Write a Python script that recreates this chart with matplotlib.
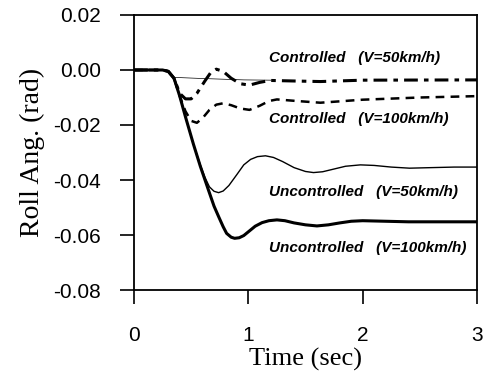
import numpy as np
import matplotlib.pyplot as plt

# time (sec) / roll angle (rad)
t_unc100 = [0, 0.25, 0.30, 0.35, 0.40, 0.45, 0.52, 0.58, 0.65, 0.70, 0.74, 0.78, 0.81, 0.85, 0.88, 0.92,
            0.96, 1.01, 1.06, 1.12, 1.18, 1.25, 1.32, 1.40, 1.50, 1.60, 1.70, 1.80, 1.90, 2.00, 2.20,
            2.40, 2.70, 3.00]
y_unc100 = [0, 0, -0.0005, -0.003, -0.0095, -0.017, -0.027, -0.035, -0.0435, -0.0495, -0.0533, -0.0570,
            -0.0594, -0.0608, -0.0612, -0.0610, -0.0602, -0.0585, -0.0568, -0.0555, -0.0548, -0.0545,
            -0.0548, -0.0556, -0.0563, -0.0567, -0.0563, -0.0556, -0.0550, -0.0548, -0.0550, -0.0552,
            -0.0552, -0.0552]

t_unc50 = [0, 0.25, 0.30, 0.35, 0.40, 0.45, 0.52, 0.58, 0.62, 0.66, 0.70, 0.74, 0.78, 0.83, 0.90, 0.96,
           1.02, 1.08, 1.15, 1.22, 1.30, 1.40, 1.50, 1.57, 1.65, 1.75, 1.85, 1.98, 2.10, 2.25, 2.41,
           2.60, 2.80, 3.00]
y_unc50 = [0, 0, -0.0005, -0.003, -0.0095, -0.017, -0.027, -0.0345, -0.0390, -0.0425, -0.0441, -0.0446,
           -0.0440, -0.0420, -0.0380, -0.0345, -0.0325, -0.0315, -0.0312, -0.0318, -0.0333, -0.0355,
           -0.0369, -0.0373, -0.0370, -0.0360, -0.0350, -0.0345, -0.0347, -0.0353, -0.0357, -0.0355,
           -0.0353, -0.0353]

t_con100 = [0, 0.25, 0.30, 0.35, 0.40, 0.45, 0.50, 0.55, 0.60, 0.66, 0.72, 0.78, 0.85, 0.93, 1.01,
            1.10, 1.18, 1.25, 1.40, 1.63, 2.00, 2.50, 3.00]
y_con100 = [0, 0, -0.0005, -0.003, -0.0095, -0.0150, -0.0185, -0.0192, -0.0175, -0.0145, -0.0126,
            -0.0121, -0.0128, -0.0140, -0.0145, -0.0130, -0.0113, -0.0107, -0.0112, -0.0119, -0.0108,
            -0.0100, -0.0095]

t_con50 = [0, 0.25, 0.30, 0.35, 0.40, 0.45, 0.50, 0.55, 0.62, 0.67, 0.72, 0.78, 0.85, 0.93, 1.01,
           1.10, 1.19, 1.40, 1.63, 2.00, 3.00]
y_con50 = [0, 0, -0.0005, -0.003, -0.0085, -0.0105, -0.0105, -0.0085, -0.0040, -0.0010, 0.0003,
           -0.0005, -0.0030, -0.0050, -0.0055, -0.0045, -0.0038, -0.0040, -0.0042, -0.0037, -0.0036]

t_thin = [0.36, 0.60, 0.96, 1.20]
y_thin = [-0.0027, -0.0031, -0.0036, -0.0037]

labels = ["Controlled   (V=50km/h)", "Controlled   (V=100km/h)",
          "Uncontrolled   (V=50km/h)", "Uncontrolled   (V=100km/h)"]
label_y = [0.0044, -0.0178, -0.0444, -0.0647]

fig = plt.figure(figsize=(4.86, 3.72), dpi=100)
ax = fig.add_axes([0.2757, 0.2204, 0.7058, 0.7393])

ax.plot(t_thin, y_thin, color='black', lw=0.5)
ax.plot(t_unc50, y_unc50, color='black', lw=1.0)
ax.plot(t_unc100, y_unc100, color='black', lw=2.2)
l1, = ax.plot(t_con100, y_con100, color='black', lw=1.8)
l1.set_dashes([3.5, 2.5])
l2, = ax.plot(t_con50, y_con50, color='black', lw=2.2)
l2.set_dashes([4.5, 2, 1.5, 2])

for txt, yy in zip(labels, label_y):
    ax.text(1.18, yy, txt, fontsize=11, fontweight='bold', fontstyle='italic',
            family='Liberation Sans', va='center', ha='left')

ax.set_xlim(0, 3)
ax.set_ylim(-0.08, 0.02)
ax.set_xticks([0, 1, 2, 3])
ax.set_yticks([0.02, 0.00, -0.02, -0.04, -0.06, -0.08])
ax.set_yticklabels(['0.02', '0.00', '-0.02', '-0.04', '-0.06', '-0.08'])
ax.tick_params(direction='out', length=10, width=1.2, labelsize=15, pad=14)
ax.tick_params(axis='x', pad=16)
for lab in ax.get_xticklabels() + ax.get_yticklabels():
    lab.set_family('Liberation Sans')
for s in ax.spines.values():
    s.set_linewidth(1.3)

ax.set_xlabel('Time (sec)', family='Liberation Serif', fontsize=19, labelpad=2)
ax.set_ylabel('Roll Ang. (rad)', family='Liberation Serif', fontsize=20, labelpad=6)

fig.savefig('out.png', dpi=100)
